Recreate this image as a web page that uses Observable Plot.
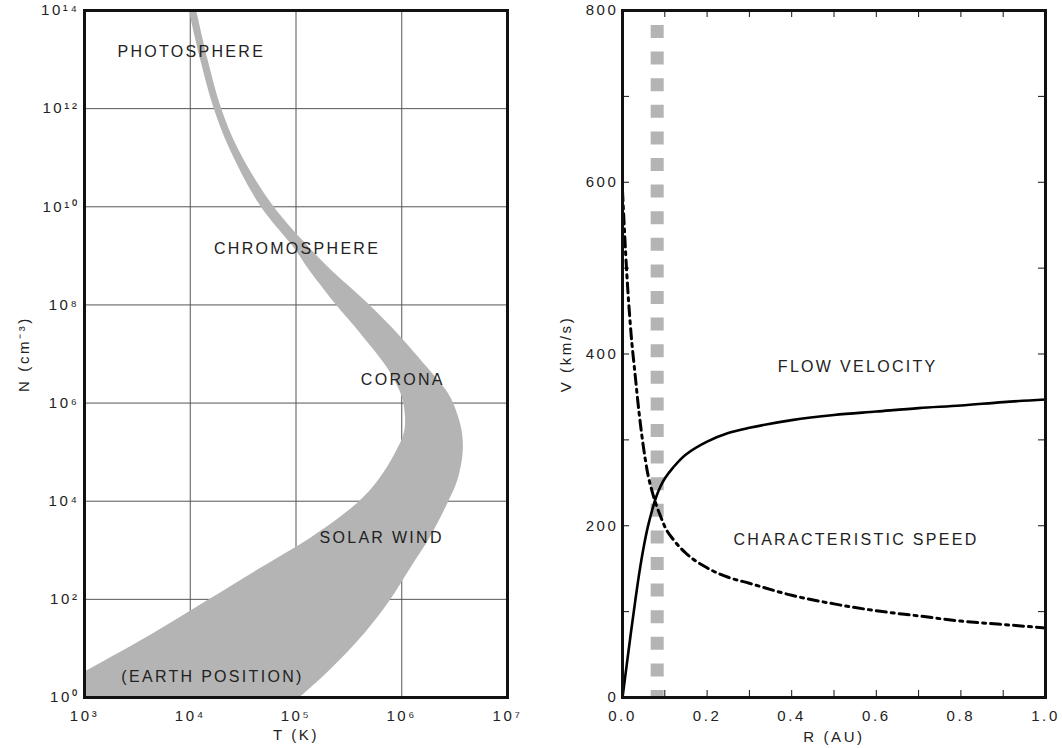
<!DOCTYPE html>
<html>
<head>
<meta charset="utf-8">
<script src="https://cdn.jsdelivr.net/npm/d3@7"></script>
<script src="https://cdn.jsdelivr.net/npm/@observablehq/plot@0.6"></script>
<style>
  body { margin: 0; background: #fff; }
  #wrap { position: relative; width: 1062px; height: 748px; overflow: hidden; }
  #left { position: absolute; left: 0; top: 0; }
  #right { position: absolute; left: 530px; top: 0; }
  svg text { letter-spacing: 2.6px; }
  svg g[aria-label="text"] text { letter-spacing: 2.3px; }
</style>
</head>
<body>
<div id="wrap"><div id="left"></div><div id="right"></div></div>
<script>
// ---------- Left panel: density N (cm^-3) vs temperature T (K), band of solar atmosphere ----------
// band edges, as decimal exponents
const nExp     = [14, 12.98, 12.04, 11.15, 10.03, 9.11, 8.76, 8.03, 7.42, 6.73, 6.26, 5.99, 5.44, 4.97, 4.42, 3.97, 3.26, 2.65, 1.94, 1.30, 0.55, 0];
const tLowExp  = [3.99, 4.10, 4.22, 4.38, 4.66, 5.00, 5.11, 5.37, 5.61, 5.86, 5.98, 6.02, 6.03, 5.94, 5.78, 5.59, 5.15, 4.68, 4.14, 3.65, 3.03, 2.57];
const tHighExp = [4.06, 4.17, 4.29, 4.46, 4.78, 5.15, 5.31, 5.68, 5.96, 6.24, 6.42, 6.49, 6.57, 6.58, 6.53, 6.44, 6.27, 6.09, 5.88, 5.65, 5.32, 5.04];

const leftXTicks = [1e3, 1e4, 1e5, 1e6, 1e7];
const leftYTicks = [1e0, 1e2, 1e4, 1e6, 1e8, 1e10, 1e12, 1e14];
const leftXGrid  = [1e4, 1e5, 1e6];
const leftYGrid  = [1e2, 1e4, 1e6, 1e8, 1e10, 1e12];

const regionText = ["PHOTOSPHERE", "CHROMOSPHERE", "CORONA", "SOLAR WIND", "(EARTH POSITION)"];
const regionTExp = [4.01, 5.01, 6.01, 5.81, 4.21];
const regionNExp = [13.16, 9.15, 6.48, 3.26, 0.43];

// ---------- Right panel: speed V (km/s) vs distance R (AU) ----------
const flowR = [0, 0.01, 0.02, 0.03, 0.04, 0.05, 0.06, 0.07, 0.08, 0.09, 0.1, 0.12, 0.15, 0.2, 0.25, 0.3, 0.4, 0.5, 0.6, 0.7, 0.8, 0.9, 1.0];
const flowV = [0, 38, 76, 112, 146, 175, 199, 218, 234, 246, 255, 268, 283, 298, 308, 314, 323, 329, 333, 337, 340, 344, 347];

const charR = [0, 0.005, 0.01, 0.02, 0.03, 0.04, 0.05, 0.06, 0.07, 0.08, 0.09, 0.1, 0.12, 0.15, 0.2, 0.25, 0.3, 0.4, 0.5, 0.6, 0.7, 0.8, 0.9, 1.0];
const charV = [590, 540, 495, 425, 375, 328, 290, 260, 240, 224, 211, 199, 184, 168, 151, 140, 133, 119, 109, 101, 95, 89, 85, 81];

const criticalR = [0.082];

const rightXTicks = [0, 0.2, 0.4, 0.6, 0.8, 1.0];
const rightYTicks = [0, 200, 400, 600, 800];
const rightXMinor = [0.1, 0.2, 0.3, 0.4, 0.5, 0.6, 0.7, 0.8, 0.9];
const rightYMinor = [100, 200, 300, 400, 500, 600, 700];

const speedText = ["FLOW VELOCITY", "CHARACTERISTIC SPEED"];
const speedR = [0.556, 0.552];
const speedV = [385, 184];

// ---------- helpers ----------
const SUP = "⁰¹²³⁴⁵⁶⁷⁸⁹";
const pow10Label = v => "10" + String(Math.round(Math.log10(v))).split("").map(c => SUP[+c]).join("");

const band = nExp.map((e, i) => ({N: 10 ** e, T1: 10 ** tLowExp[i], T2: 10 ** tHighExp[i]}));
const regions = regionText.map((t, i) => ({text: t, T: 10 ** regionTExp[i], N: 10 ** regionNExp[i]}));
const flow = flowR.map((r, i) => ({R: r, V: flowV[i]}));
const charSpeed = charR.map((r, i) => ({R: r, V: charV[i]}));
const speedLabels = speedText.map((t, i) => ({text: t, R: speedR[i], V: speedV[i]}));

const fontStyle = {fontFamily: "'Liberation Sans', Arial, Helvetica, sans-serif", fontSize: "15px", color: "#222", background: "transparent"};
const GREY = "#b4b4b4";

const left = Plot.plot({
  width: 530, height: 748,
  marginLeft: 84, marginRight: 23, marginTop: 10, marginBottom: 51,
  style: fontStyle,
  x: {type: "log", domain: [1e3, 1e7]},
  y: {type: "log", domain: [1e0, 1e14]},
  marks: [
    Plot.gridX(leftXGrid, {stroke: "#555", strokeOpacity: 1, strokeWidth: 1}),
    Plot.gridY(leftYGrid, {stroke: "#555", strokeOpacity: 1, strokeWidth: 1}),
    Plot.areaX(band, {y: "N", x1: "T1", x2: "T2", fill: GREY, curve: "catmull-rom", clip: true}),
    Plot.text(regions, {x: "T", y: "N", text: "text", fontSize: 16, fill: "#222"}),
    Plot.axisX({ticks: leftXTicks, tickFormat: pow10Label, tickSize: 0, tickPadding: 13,
      label: "T (K)", labelAnchor: "center", labelOffset: 42, labelArrow: "none"}),
    Plot.axisY({ticks: leftYTicks, tickFormat: pow10Label, tickSize: 0, tickPadding: 5,
      label: "N (cm⁻³)", labelAnchor: "center", labelOffset: 66, labelArrow: "none"}),
    Plot.frame({stroke: "#111", strokeWidth: 3})
  ]
});
document.getElementById("left").append(left);

const PW = 423, PH = 687, STUB = 7;
const right = Plot.plot({
  width: 532, height: 748,
  marginLeft: 92, marginRight: 17, marginTop: 10, marginBottom: 51,
  style: fontStyle,
  x: {domain: [0, 1]},
  y: {domain: [0, 800]},
  marks: [
    Plot.ruleX(criticalR, {stroke: GREY, strokeWidth: 13, strokeDasharray: "13,13.6", insetTop: 15}),
    Plot.tickX(rightXMinor, {x: d => d, insetTop: PH - STUB, stroke: "#111"}),
    Plot.tickX(rightXMinor, {x: d => d, insetBottom: PH - STUB, stroke: "#111"}),
    Plot.tickY(rightYMinor, {y: d => d, insetRight: PW - STUB, stroke: "#111"}),
    Plot.tickY(rightYMinor, {y: d => d, insetLeft: PW - STUB, stroke: "#111"}),
    Plot.line(charSpeed, {x: "R", y: "V", stroke: "#000", strokeWidth: 3, strokeDasharray: "10,5,3,5", curve: "monotone-x"}),
    Plot.line(flow, {x: "R", y: "V", stroke: "#000", strokeWidth: 2.6, curve: "catmull-rom"}),
    Plot.text(speedLabels, {x: "R", y: "V", text: "text", fontSize: 16, fill: "#222"}),
    Plot.axisX({ticks: rightXTicks, tickFormat: d3.format(".1f"), tickSize: 0, tickPadding: 13,
      label: "R (AU)", labelAnchor: "center", labelOffset: 44, labelArrow: "none"}),
    Plot.axisY({ticks: rightYTicks, tickFormat: d3.format("d"), tickSize: 0, tickPadding: 4,
      label: "V (km/s)", labelAnchor: "center", labelOffset: 62, labelArrow: "none"}),
    Plot.frame({stroke: "#111", strokeWidth: 3})
  ]
});
document.getElementById("right").append(right);
</script>
</body>
</html>
